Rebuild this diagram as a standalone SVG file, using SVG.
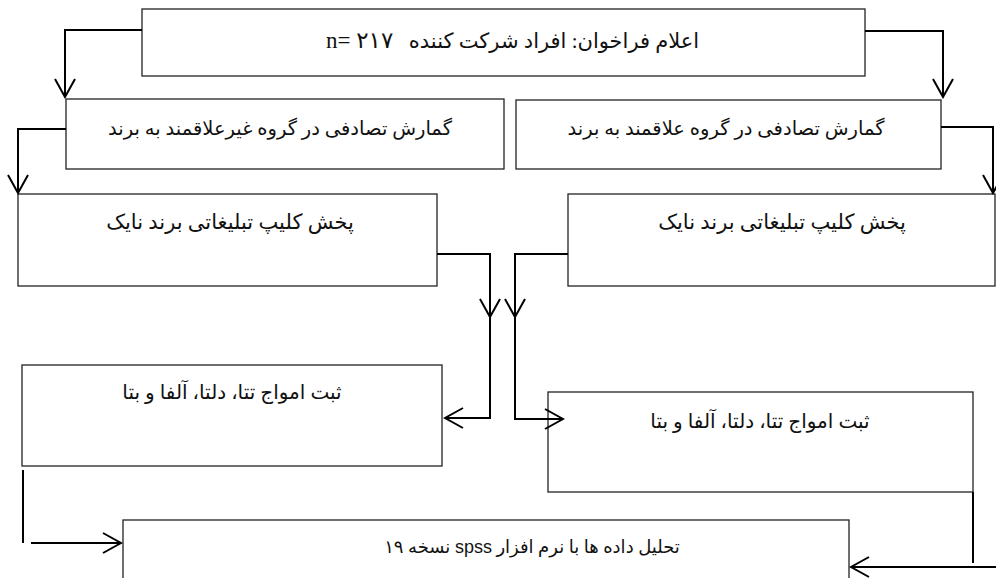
<svg xmlns="http://www.w3.org/2000/svg" width="996" height="578" viewBox="0 0 996 578">
<style>
.box{fill:#fff;stroke:#222;stroke-width:1.3}
.t{font-family:"Liberation Serif","DejaVu Sans",serif;font-size:20px;fill:#111}
.r2{font-size:19.5px}
.big{font-size:21px}
.b{font-size:18px}
.lat{font-family:"Liberation Sans","DejaVu Sans",sans-serif}
.c{fill:none;stroke:#000;stroke-width:2}
</style>
<defs>
<marker id="ah" viewBox="-20 -11 22 22" refX="0" refY="0" markerWidth="22" markerHeight="22" markerUnits="userSpaceOnUse" orient="auto">
<path d="M-18,-10 L0,0 L-18,10" fill="none" stroke="#000" stroke-width="2"/>
</marker>
</defs>
<rect width="996" height="578" fill="#fff"/>
<g id="n1"><rect class="box" x="142" y="9" width="723" height="67"/>
<text class="t big" x="554" y="48" text-anchor="middle">اعلام فراخوان: افراد شرکت کننده</text>
<text class="t" x="326" y="48" style="font-size:23px">n= ۲۱۷</text></g>
<g id="n2"><rect class="box" x="66" y="99" width="438" height="70"/>
<text class="t r2" x="280" y="135" text-anchor="middle">گمارش تصادفی در گروه غیرعلاقمند به برند</text></g>
<g id="n3"><rect class="box" x="516" y="100" width="425" height="69"/>
<text class="t r2" x="726" y="135" text-anchor="middle">گمارش تصادفی در گروه علاقمند به برند</text></g>
<g id="n4"><rect class="box" x="18" y="194" width="419" height="92"/>
<text class="t big" x="230" y="229" text-anchor="middle">پخش کلیپ تبلیغاتی برند نایک</text></g>
<g id="n5"><rect class="box" x="568" y="194" width="427" height="92"/>
<text class="t big" x="782" y="229" text-anchor="middle">پخش کلیپ تبلیغاتی برند نایک</text></g>
<g id="n6"><rect class="box" x="22" y="365" width="420" height="101"/>
<text class="t" x="232" y="399" text-anchor="middle">ثبت امواج تتا، دلتا، آلفا و بتا</text></g>
<g id="n7"><rect class="box" x="548" y="392" width="425" height="100"/>
<text class="t" x="760" y="428" text-anchor="middle">ثبت امواج تتا، دلتا، آلفا و بتا</text></g>
<g id="n8"><rect class="box" x="123" y="520" width="726" height="70"/>
<text class="t b" x="532" y="553" text-anchor="middle" direction="rtl">تحلیل داده ها با نرم افزار <tspan class="lat">spss</tspan> نسخه ۱۹</text></g>
<g id="connectors">
<path class="c" d="M142,30 H65 V97" marker-end="url(#ah)"/>
<path class="c" d="M865,31 H943 V97" marker-end="url(#ah)"/>
<path class="c" d="M66,129 H18 V193" marker-end="url(#ah)"/>
<path class="c" d="M941,127 H993 V193" marker-end="url(#ah)"/>
<path class="c" d="M437,254 H490 V317" marker-end="url(#ah)"/>
<path class="c" d="M490,317 V418 H445" marker-end="url(#ah)"/>
<path class="c" d="M568,254 H515 V317" marker-end="url(#ah)"/>
<path class="c" d="M515,317 V419 H563" marker-end="url(#ah)"/>
<path class="c" d="M23,470 V543"/>
<path class="c" d="M31,543 H121" marker-end="url(#ah)"/>
<path class="c" d="M973,492 V563"/>
<path class="c" d="M996,567 H851" marker-end="url(#ah)"/>
</g>
</svg>
